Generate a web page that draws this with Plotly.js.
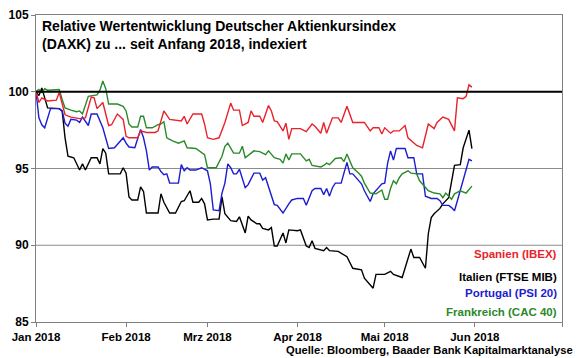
<!DOCTYPE html>
<html>
<head>
<meta charset="utf-8">
<script src="https://cdn.plot.ly/plotly-3.0.1.min.js"></script>
<style>
html,body{margin:0;padding:0;background:#fff;}
#chart{width:580px;height:358px;}
</style>
</head>
<body>
<div id="chart"></div>
<script>
// ---- Data (dates as MM-DD in 2018, values = indexed relative performance) ----
const spainDates = ['01-01','01-02','01-03','01-05','01-08','01-09','01-11','01-13','01-16','01-18','01-20','01-21','01-22','01-24','01-26','01-27','01-29','01-31',
'02-01','02-02','02-05','02-06','02-08','02-11','02-12','02-14','02-16','02-19','02-20','02-21','02-22','02-24','02-26','02-27','02-28',
'03-01','03-03','03-05','03-07','03-09','03-10','03-12','03-13','03-15','03-16','03-17','03-19','03-20','03-22','03-23','03-24','03-25','03-27','03-28','03-29','03-30',
'04-02','04-04','04-06','04-07','04-09','04-10','04-11','04-13','04-15','04-16','04-18','04-19','04-20','04-24','04-26','04-27','04-29','04-30',
'05-01','05-03','05-04','05-06','05-08','05-09','05-12','05-14','05-16','05-18','05-19','05-21','05-23','05-25','05-26','05-28','05-29','05-30','05-31'];
const spainVals = [100.0,99.3,99.6,99.4,99.45,99.95,98.5,98.35,98.25,98.3,99.65,99.6,98.9,99.3,97.8,97.85,98.55,98.2,
97.1,97.0,97.0,97.45,97.35,97.35,97.45,98.75,98.2,98.1,98.1,98.4,97.9,98.55,98.55,98.55,97.9,
97.0,96.9,97.0,98.0,99.26,98.8,98.8,97.8,98.0,98.75,98.4,98.4,98.0,99.1,98.75,98.1,98.05,97.45,97.95,96.9,97.6,
97.6,97.4,97.9,97.75,97.3,98.0,97.3,98.3,98.3,98.0,99.05,98.55,98.0,98.0,97.45,97.65,97.65,97.25,
97.65,97.3,97.45,97.45,97.8,97.0,96.5,96.35,97.9,97.6,98.0,98.35,98.2,97.45,99.6,99.55,99.7,100.45,100.3];

const italyDates = ['01-01','01-02','01-03','01-05','01-09','01-10','01-11','01-12','01-14','01-16','01-17','01-18','01-20','01-22','01-23','01-24','01-25','01-26','01-28','01-30','01-31',
'02-01','02-02','02-03','02-05','02-06','02-07','02-08','02-09','02-12','02-13','02-14','02-16','02-18','02-20','02-21','02-23','02-24','02-26','02-27','02-28',
'03-01','03-03','03-05','03-06','03-07','03-09','03-11','03-12','03-14','03-15','03-16','03-18','03-19','03-20','03-22','03-23','03-24','03-25','03-27','03-28','03-29',
'04-01','04-02','04-04','04-05','04-06','04-07','04-10','04-11','04-12','04-15','04-18','04-20','04-23','04-24','04-27','04-28',
'05-01','05-03','05-04','05-07','05-10','05-11','05-13','05-15','05-16','05-17','05-18','05-20','05-21','05-23','05-25','05-27','05-28','05-30','05-31'];
const italyVals = [100.0,99.75,100.25,98.95,98.9,98.75,97.0,95.8,95.7,94.9,95.3,94.9,95.7,95.7,95.3,96.3,96.0,94.65,94.65,94.65,95.05,
94.7,93.15,92.95,92.95,93.8,93.5,92.1,92.1,92.1,93.35,92.8,92.1,92.1,92.85,92.9,93.55,92.8,92.8,93.05,92.7,
91.65,91.7,91.7,93.15,92.05,91.6,91.55,91.85,90.8,91.9,91.65,91.4,91.4,91.1,91.0,91.15,89.95,89.95,90.8,90.15,91.0,
90.95,91.0,89.95,89.85,90.3,89.8,89.65,89.85,89.65,89.6,89.25,88.5,88.4,87.85,87.2,88.1,
88.1,88.3,88.1,87.9,89.75,89.2,89.2,88.5,90.75,91.8,92.05,92.4,92.7,93.1,95.2,95.25,96.35,97.5,96.3];

const portugalDates = ['01-01','01-02','01-03','01-04','01-06','01-09','01-10','01-11','01-12','01-13','01-15','01-16','01-17','01-19','01-20','01-22','01-24','01-26','01-28','01-30','01-31',
'02-01','02-02','02-04','02-06','02-07','02-08','02-09','02-10','02-12','02-13','02-14','02-15','02-16','02-17','02-19','02-20','02-21','02-22','02-23','02-25','02-26','02-27',
'03-01','03-02','03-03','03-04','03-05','03-06','03-07','03-08','03-09','03-10','03-11','03-12','03-14','03-15','03-17','03-19','03-20','03-21','03-22','03-24','03-25','03-27','03-29','03-30',
'04-01','04-03','04-04','04-06','04-07','04-09','04-10','04-11','04-12','04-13','04-14','04-16','04-18','04-19','04-20','04-23','04-24','04-26','04-27','04-30',
'05-01','05-02','05-03','05-04','05-05','05-08','05-09','05-11','05-12','05-14','05-15','05-17','05-19','05-20','05-21','05-23','05-24','05-25','05-26','05-28','05-30','05-31'];
const portugalVals = [100.0,98.3,97.85,97.65,98.9,98.9,98.75,97.95,97.75,98.2,98.15,98.0,98.35,97.8,98.55,98.55,97.65,96.3,96.35,96.8,97.0,
96.65,96.4,96.35,97.55,97.0,96.15,94.9,95.1,95.1,94.8,94.6,94.65,94.05,94.05,94.05,95.25,94.85,95.05,94.9,94.9,95.0,95.05,
94.85,94.0,92.3,92.25,92.25,93.4,94.05,95.3,95.05,94.65,94.65,94.95,93.75,93.95,94.7,94.7,94.25,94.4,93.8,92.65,92.6,92.1,92.7,92.95,
93.05,93.05,92.6,93.55,93.7,93.7,93.3,93.7,93.2,93.75,94.05,94.05,95.4,94.65,94.65,94.0,93.55,92.85,93.35,94.0,
94.05,95.35,96.15,95.55,96.3,96.3,95.7,95.7,94.65,94.65,93.2,93.05,93.05,92.9,92.6,92.6,92.45,92.25,92.9,94.3,95.6,95.5];

const franceDates = ['01-01','01-02','01-03','01-04','01-05','01-09','01-10','01-11','01-13','01-15','01-16','01-17','01-19','01-22','01-23','01-24','01-25','01-26','01-29','01-31',
'02-01','02-02','02-03','02-05','02-06','02-07','02-08','02-10','02-12','02-13','02-14','02-15','02-17','02-19','02-21','02-22','02-25','02-27','02-28',
'03-01','03-04','03-06','03-07','03-08','03-09','03-10','03-12','03-13','03-14','03-16','03-17','03-19','03-21','03-22','03-24','03-26','03-27','03-28','03-29','03-30',
'04-02','04-04','04-05','04-06','04-09','04-10','04-11','04-12','04-14','04-16','04-17','04-18','04-20','04-22','04-23','04-24','04-26','04-28','04-30',
'05-01','05-02','05-03','05-04','05-05','05-06','05-07','05-09','05-10','05-12','05-13','05-14','05-16','05-18','05-20','05-21','05-22','05-24','05-25','05-27','05-29','05-31'];
const franceVals = [100.0,100.15,99.95,100.2,100.1,100.15,99.5,98.95,98.8,98.7,98.75,98.55,99.7,99.8,100.1,100.7,100.2,99.2,99.2,99.05,
98.75,97.9,97.7,97.7,98.4,98.4,97.65,97.65,97.85,97.9,98.05,97.0,96.8,96.65,96.8,96.35,96.3,96.0,95.9,
95.05,95.05,95.8,96.45,96.65,96.3,96.0,96.0,96.45,95.7,96.0,96.15,96.1,95.9,96.15,95.7,95.6,95.35,95.95,95.55,95.95,
95.95,95.5,95.6,95.2,95.1,95.2,95.35,95.25,95.65,95.7,95.45,95.95,95.05,94.7,94.5,94.05,93.4,93.35,93.6,
93.0,93.0,93.7,94.2,94.0,94.4,94.65,94.85,94.7,94.65,94.2,94.0,93.55,93.4,93.35,93.1,93.4,93.0,93.35,93.55,93.4,93.85];

const seriesNames = ['Spanien (IBEX)','Italien (FTSE MIB)','Portugal (PSI 20)','Frankreich (CAC 40)'];
const seriesColors = ['#e8232b','#000000','#1c1cd0','#2a8a2a'];

const xTickVals = ['2018-01-01','2018-02-01','2018-03-01','2018-04-01','2018-05-01','2018-06-01','2018-07-01'];
const xTickText = ['Jan 2018','Feb 2018','Mrz 2018','Apr 2018','Mai 2018','Jun 2018',''];
const yTickVals = [85,90,95,100,105];
const gridVals = [90,95];
const baseline = 100;

const titleText = 'Relative Wertentwicklung Deutscher Aktienkursindex<br>(DAXK) zu ... seit Anfang 2018, indexiert';
const sourceText = 'Quelle: Bloomberg, Baader Bank Kapitalmarktanalyse';

// ---- Build ----
const toDate = d => '2018-' + d;
const FONT = 'Arial, "Liberation Sans", sans-serif';

const allDates = [spainDates, italyDates, portugalDates, franceDates];
const allVals = [spainVals, italyVals, portugalVals, franceVals];
const drawOrder = [1, 2, 3, 0];

const traces = drawOrder.map(i => ({
  type: 'scatter', mode: 'lines',
  x: allDates[i].map(toDate), y: allVals[i],
  name: seriesNames[i],
  line: {color: seriesColors[i], width: 1.4},
  showlegend: false, hoverinfo: 'skip'
}));

const legendY = [0.2215, 0.1466, 0.0945, 0.0326];
const annotations = seriesNames.map((n, i) => ({
  xref: 'paper', yref: 'paper', x: 0.994, y: legendY[i],
  xanchor: 'right', yanchor: 'middle', showarrow: false,
  text: n, font: {family: FONT, size: 11.5, color: seriesColors[i], weight: 'bold'}
}));
annotations.push({
  xref: 'paper', yref: 'paper', x: 0.0076, y: 0.998,
  xanchor: 'left', yanchor: 'top', align: 'left', showarrow: false,
  text: titleText, font: {family: FONT, size: 14, color: '#000', weight: 'bold'}
});
annotations.push({
  xref: 'paper', yref: 'paper', x: 1.0247, y: -0.0912,
  xanchor: 'right', yanchor: 'middle', showarrow: false,
  text: sourceText, font: {family: FONT, size: 11.2, color: '#000', weight: 'bold'}
});

const shapes = gridVals.map(v => ({
  type: 'line', xref: 'paper', yref: 'y', x0: 0, x1: 1, y0: v, y1: v,
  line: {color: '#8c8c8c', width: 1}, layer: 'below'
}));
shapes.push({
  type: 'line', xref: 'paper', yref: 'y', x0: 0, x1: 1, y0: baseline, y1: baseline,
  line: {color: '#000', width: 2}, layer: 'above'
});

const layout = {
  width: 580, height: 358,
  margin: {l: 36, r: 18, t: 15, b: 36},
  paper_bgcolor: '#fff', plot_bgcolor: '#fff',
  font: {family: FONT, size: 11.5, color: '#000'},
  xaxis: {
    type: 'date', range: ['2018-01-01', '2018-07-01'],
    tickmode: 'array', tickvals: xTickVals, ticktext: xTickText,
    ticks: 'outside', ticklen: 4, tickcolor: '#808080', tickwidth: 1,
    showline: true, linecolor: '#808080', linewidth: 1, mirror: true,
    showgrid: false, zeroline: false,
    tickfont: {family: FONT, size: 11.5, color: '#000', weight: 'bold'}
  },
  yaxis: {
    range: [85, 105], tickmode: 'array', tickvals: yTickVals,
    ticks: 'outside', ticklen: 4, tickcolor: '#808080', tickwidth: 1,
    showline: true, linecolor: '#808080', linewidth: 1, mirror: true,
    showgrid: false, zeroline: false,
    tickfont: {family: FONT, size: 12, color: '#000', weight: 'bold'}
  },
  shapes: shapes,
  annotations: annotations
};

Plotly.newPlot('chart', traces, layout, {displayModeBar: false, staticPlot: true});
</script>
</body>
</html>
